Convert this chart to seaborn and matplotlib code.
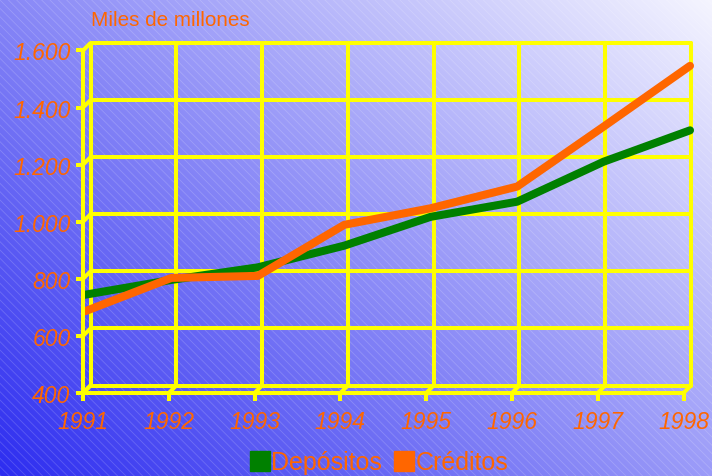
import numpy as np
import pandas as pd
import matplotlib
matplotlib.use("Agg")
import matplotlib.pyplot as plt
import seaborn as sns
from matplotlib.lines import Line2D
from matplotlib.patches import Rectangle
from matplotlib.transforms import IdentityTransform

# ---- data ----
years = [1991, 1992, 1993, 1994, 1995, 1996, 1997, 1998]
depositos = [718, 770, 814, 890, 991, 1044, 1184, 1294]
creditos = [660, 777, 784, 963, 1021, 1097, 1307, 1520]
series_names = ["Depósitos", "Créditos"]
yticks = [400, 600, 800, 1000, 1200, 1400, 1600]
ytick_labels = ["400", "600", "800", "1.000", "1.200", "1.400", "1.600"]
xtick_labels = ["1991", "1992", "1993", "1994", "1995", "1996", "1997", "1998"]
unit_label = "Miles de millones"

GREEN = "#008000"
ORANGE = "#ff6600"
YELLOW = "#ffff00"

sns.set_theme(style="white")
plt.rcParams["font.family"] = ["Liberation Sans", "DejaVu Sans"]
plt.rcParams["hatch.linewidth"] = 0.6

W, H = 712, 477
DPI = 100
fig = plt.figure(figsize=(W / DPI, H / DPI), dpi=DPI)

# ---- background gradient ----
bg = fig.add_axes([0, 0, 1, 1])
bg.set_axis_off()
xx, yy = np.meshgrid(np.linspace(0, 1, 356), np.linspace(0, 1, 239))
t = 0.55 * xx + 0.45 * (1 - yy)  # yy=0 at top row (image origin upper)
dark = np.array([45, 45, 240]) / 255
light = np.array([245, 245, 255]) / 255
img = dark[None, None, :] * (1 - t[..., None]) + light[None, None, :] * t[..., None]
bg.imshow(img, extent=[0, 1, 0, 1], aspect="auto", origin="upper", interpolation="bilinear")
bg.add_patch(Rectangle((0, 0), 1, 1, transform=bg.transAxes, facecolor="none",
                       edgecolor=(1, 1, 1, 0.18), hatch="\\\\\\\\", linewidth=0))
bg.set_xlim(0, 1)
bg.set_ylim(0, 1)

# ---- back plane (grid) ----
bx0, bx1 = 90.5, 691.0
by_top, by_bot = 44.0, 386.5
ax = fig.add_axes([bx0 / W, (H - by_bot) / H, (bx1 - bx0) / W, (by_bot - by_top) / H])
ax.set_facecolor("none")
ax.set_xlim(years[0], years[-1])
ax.set_ylim(yticks[0], yticks[-1])
for s in ax.spines.values():
    s.set_visible(False)
ax.set_xticks([])
ax.set_yticks([])
GRID_LW = 2.9
for yv in yticks:
    ax.axhline(yv, color=YELLOW, lw=GRID_LW, clip_on=False, zorder=1)
for xv in years:
    ax.axvline(xv, color=YELLOW, lw=GRID_LW, clip_on=False, zorder=1)

# ---- data lines (drawn across from front-left to back-right) ----
lx0, lx1 = 85.0, 690.0
la = fig.add_axes([lx0 / W, (H - by_bot) / H, (lx1 - lx0) / W, (by_bot - by_top) / H])
la.set_facecolor("none")
la.set_axis_off()
df = pd.DataFrame({
    "Año": years * 2,
    "Valor": depositos + creditos,
    "Serie": [series_names[0]] * len(years) + [series_names[1]] * len(years),
})
sns.lineplot(data=df, x="Año", y="Valor", hue="Serie", palette=[GREEN, ORANGE],
             linewidth=5.8, ax=la, legend=False, zorder=3)
la.set_xlim(years[0], years[-1])
la.set_ylim(yticks[0], yticks[-1])
for ln in la.get_lines():
    ln.set_clip_on(False)

# ---- front plane (axes with ticks/labels) ----
DX, DY = -7.5, 7.5  # pixel offset of front plane (right, down)
fa = fig.add_axes([(bx0 + DX) / W, (H - by_bot - DY) / H, (bx1 - bx0) / W, (by_bot - by_top) / H])
fa.set_facecolor("none")
fa.set_xlim(years[0], years[-1])
fa.set_ylim(yticks[0], yticks[-1])
for k in ["top", "right"]:
    fa.spines[k].set_visible(False)
for k in ["left", "bottom"]:
    fa.spines[k].set_color(YELLOW)
    fa.spines[k].set_linewidth(GRID_LW)
    fa.spines[k].set_zorder(4)
fa.set_yticks(yticks)
fa.set_yticklabels(ytick_labels)
fa.set_xticks(years)
fa.set_xticklabels(xtick_labels)
fa.tick_params(axis="y", direction="out", length=5.0, width=GRID_LW, color=YELLOW,
               labelcolor=ORANGE, labelsize=16.5, pad=4.0, left=True)
fa.tick_params(axis="x", direction="out", length=6.0, width=GRID_LW, color=YELLOW,
               labelcolor=ORANGE, labelsize=16.5, pad=6.5, bottom=True)
for lab in fa.get_xticklabels() + fa.get_yticklabels():
    lab.set_fontstyle("italic")

# connectors between front and back planes
fig.canvas.draw()
for yv in yticks:
    xb, yb = ax.transData.transform((years[0], yv))
    fig.add_artist(Line2D([xb + DX, xb], [yb - DY, yb], transform=IdentityTransform(),
                          color=YELLOW, lw=GRID_LW, solid_capstyle="butt", zorder=5))
for xv in years:
    xb, yb = ax.transData.transform((xv, yticks[0]))
    fig.add_artist(Line2D([xb + DX, xb], [yb - DY, yb], transform=IdentityTransform(),
                          color=YELLOW, lw=GRID_LW, solid_capstyle="butt", zorder=5))

# unit label
fig.text(91 / W, (H - 21) / H, unit_label, color=ORANGE, fontsize=14.9,
         ha="left", va="center")

# legend
handles = [Line2D([], [], marker="s", linestyle="none", markersize=15.0,
                  markerfacecolor=c, markeredgecolor=c) for c in [GREEN, ORANGE]]
leg = fig.legend(handles, series_names, loc="center", bbox_to_anchor=(379 / W, 13.5 / H),
                 ncol=2, frameon=False, fontsize=18.0, handlelength=0.8,
                 handletextpad=0.05, columnspacing=0.5, borderpad=0)
for txt in leg.get_texts():
    txt.set_color(ORANGE)

fig.savefig("out.png", dpi=DPI)
